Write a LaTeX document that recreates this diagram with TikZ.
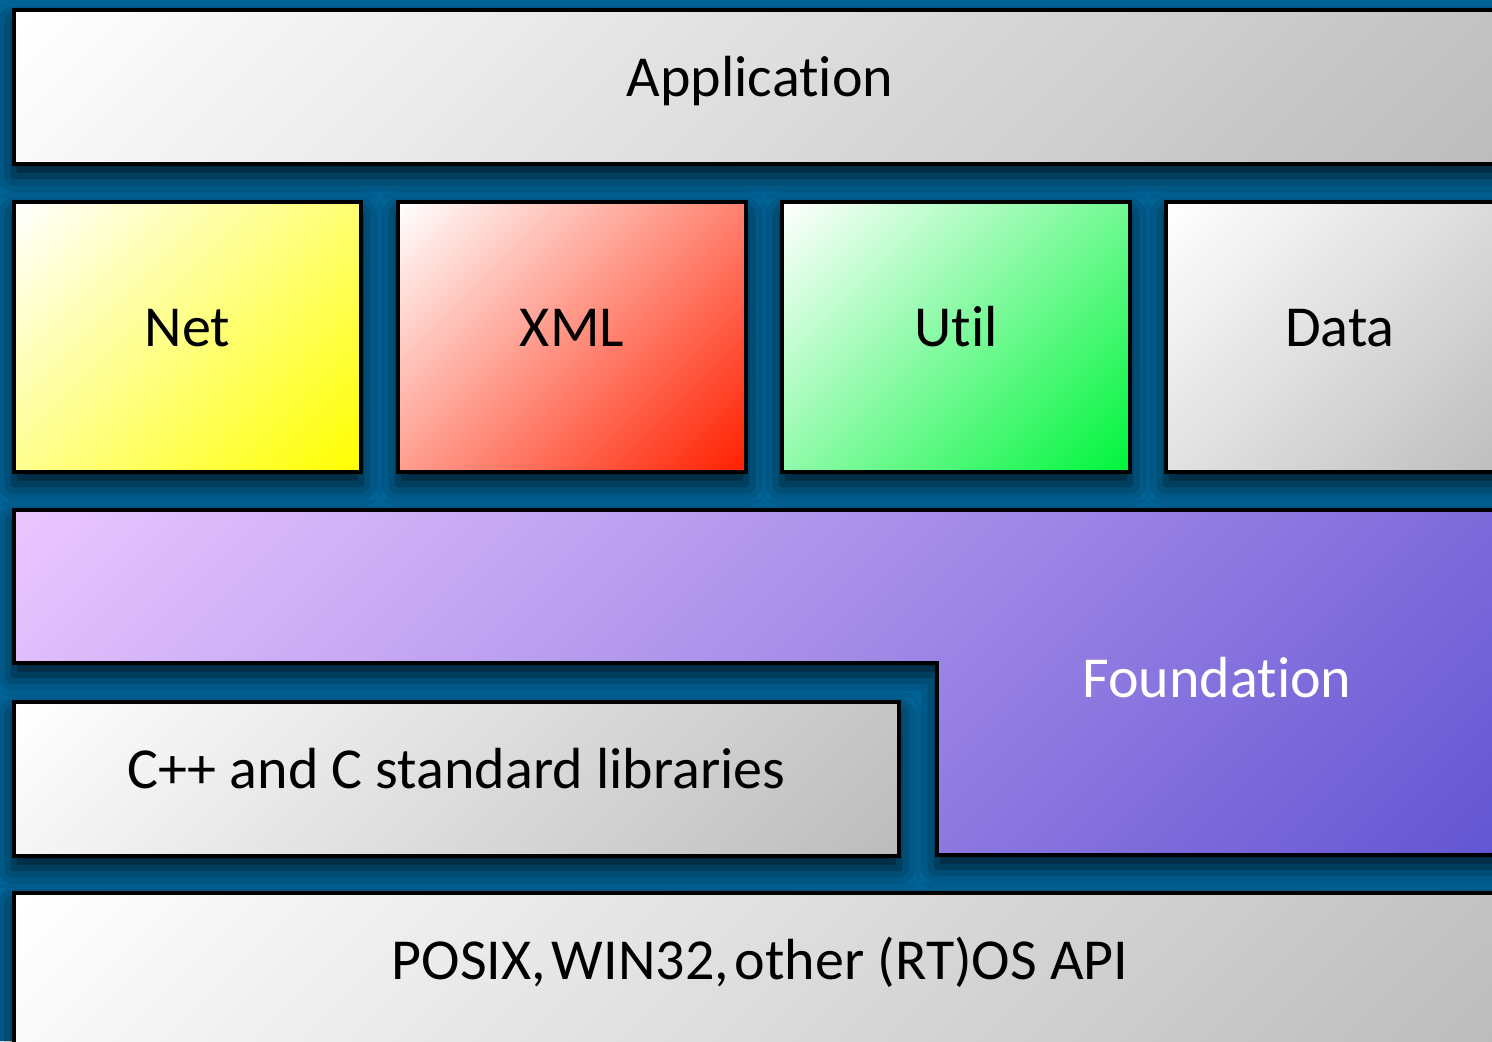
\documentclass[tikz,border=0pt]{standalone}
\usepackage{fontspec}
\setmainfont{Carlito}[Ligatures=NoCommon]
\usetikzlibrary{shadows.blur}
\definecolor{bgblue}{RGB}{0,104,158}
\definecolor{layerlight}{RGB}{255,255,255}
\definecolor{layerdark}{RGB}{188,188,188}
\definecolor{greyend}{RGB}{188,188,188}
\definecolor{yellowend}{RGB}{255,255,0}
\definecolor{redend}{RGB}{255,32,0}
\definecolor{greenend}{RGB}{0,245,60}
\definecolor{lilac}{RGB}{234,198,255}
\definecolor{violet}{RGB}{98,84,210}
% gradient from corner to corner
\pgfdeclarehorizontalshading[layerlight,layerdark]{layershade}{100bp}{color(0bp)=(layerlight); color(15bp)=(layerlight); color(85bp)=(layerdark); color(100bp)=(layerdark)}

\begin{document}
\begin{tikzpicture}[x=0.01cm,y=-0.01cm]
	\tikzset{layer/.style={draw=black, rectangle, line width=0.04cm, /utils/exec={\colorlet{layerdark}{#1}}, shade, shading=layershade, shading angle=-45, font=\fontsize{16.5pt}{18pt}\selectfont, text height=0.37cm, text depth=0.18cm, blur shadow={shadow xshift=0pt, shadow yshift=-0.12cm, shadow blur radius=0.22cm, shadow opacity=80}}}
	\useasboundingbox (0,0) rectangle (1492,1041);
	\clip (0,0) rectangle (1492,1041);
	\fill[bgblue] (0,0) rectangle (1492,1041);
	\node[layer=greyend, minimum width=14.92cm, minimum height=1.54cm] at (760,87) (app){Application};
	\node[layer=yellowend, minimum width=3.47cm, minimum height=2.7cm] at (187.5,337) (net){Net};
	\node[layer=redend, minimum width=3.48cm, minimum height=2.7cm] at (572,337) (xml){XML};
	\node[layer=greenend, minimum width=3.48cm, minimum height=2.7cm] at (956,337) (util){Util};
	\node[layer=greyend, minimum width=3.48cm, minimum height=2.7cm] at (1340,337) (data){Data};
	\colorlet{layerlight}{lilac}
	\path[layer=violet] (14,510) -- (1530,510) -- (1530,855) -- (937,855) -- (937,663) -- (14,663) -- cycle;
	\colorlet{layerlight}{white}
	\node[font=\fontsize{16.5pt}{18pt}\selectfont, text=white, anchor=base] at (1217,697) (found){Foundation};
	\node[layer=greyend, minimum width=8.85cm, minimum height=1.54cm] at (456.5,779) (clib){C++ and C standard libraries};
	\node[layer=greyend, minimum width=14.92cm, minimum height=1.54cm] at (760,970) (posix){POSIX,\hspace{0.1em}WIN32,\hspace{0.1em}other (RT)OS API};
\end{tikzpicture}
\end{document}
